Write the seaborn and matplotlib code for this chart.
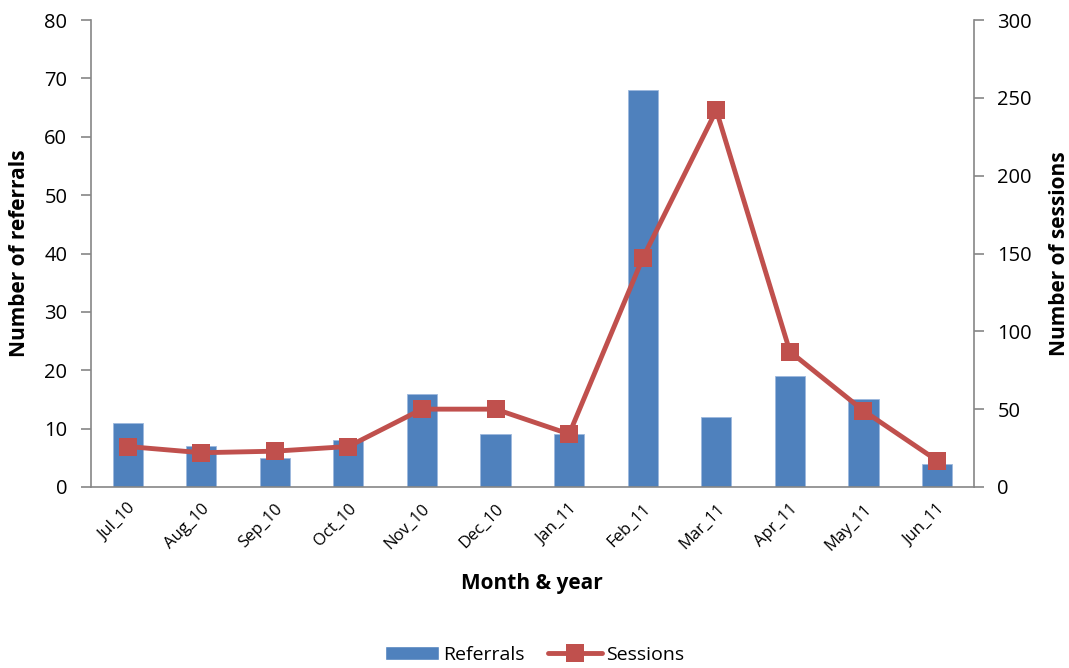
import numpy as np
import pandas as pd
import matplotlib
matplotlib.use('Agg')
import matplotlib.pyplot as plt
import seaborn as sns
from matplotlib.lines import Line2D
from matplotlib.patches import Patch

months = ['Jul_10', 'Aug_10', 'Sep_10', 'Oct_10', 'Nov_10', 'Dec_10',
          'Jan_11', 'Feb_11', 'Mar_11', 'Apr_11', 'May_11', 'Jun_11']
referrals = [11, 7, 5, 8, 16, 9, 9, 68, 12, 19, 15, 4]
sessions = [26, 22, 23, 26, 50, 50, 34, 147, 242, 87, 49, 17]

sns.set_style('white')
plt.rcParams['font.family'] = ['Open Sans', 'DejaVu Sans']
plt.rcParams['text.color'] = 'black'
plt.rcParams['axes.labelcolor'] = 'black'
plt.rcParams['xtick.color'] = 'black'
plt.rcParams['ytick.color'] = 'black'

blue = '#4F81BD'
red = '#C0504D'
grey = '#868686'

df = pd.DataFrame({'month': months, 'referrals': referrals, 'sessions': sessions})

fig = plt.figure(figsize=(10.69, 6.68), dpi=100)
ax = fig.add_axes([0.085, 0.271, 0.826, 0.699])
sns.barplot(data=df, x='month', y='referrals', color=blue, width=0.41,
            saturation=1, edgecolor='#9DB9DD', linewidth=0.6, ax=ax)
ax.set_xlim(-0.5, len(months) - 0.5)
ax.set_ylim(0, 80)
ax.set_yticks(range(0, 81, 10))

ax2 = ax.twinx()
x = np.arange(len(months))
sns.lineplot(x=x, y=df['sessions'], ax=ax2, color=red, linewidth=3.5,
             marker='s', markersize=13, markeredgewidth=0)
ax2.set_ylim(0, 300)
ax2.set_yticks(range(0, 301, 50))
ax2.set_xlim(-0.5, len(months) - 0.5)

for a in (ax, ax2):
    for s in a.spines.values():
        s.set_visible(False)
    a.tick_params(axis='y', labelsize=14.5, length=7, width=1.2, color=grey,
                  direction='out', pad=10, labelcolor='black')
ax.spines['left'].set_visible(True)
ax.spines['bottom'].set_visible(True)
ax2.spines['right'].set_visible(True)
for s in (ax.spines['left'], ax.spines['bottom'], ax2.spines['right']):
    s.set_color(grey)
    s.set_linewidth(1.2)
ax.tick_params(axis='y', left=True)
ax2.tick_params(axis='y', right=True)

ax.set_xticks(x)
ax.set_xticklabels(months, rotation=45, ha='right', rotation_mode='anchor', fontsize=12)
ax.tick_params(axis='x', which='major', length=0, pad=10, labelcolor='black')
ax.set_xticks(np.arange(-0.5, len(months)), minor=True)
ax.tick_params(axis='x', which='minor', length=7, width=1.2, color=grey, direction='out')

ax.set_xlabel('Month & year', fontsize=15, fontweight='bold', labelpad=14)
ax.set_ylabel('Number of referrals', fontsize=15, fontweight='bold', labelpad=10)
ax2.set_ylabel('Number of sessions', fontsize=15, fontweight='bold', labelpad=12)

handles = [Patch(facecolor=blue, label='Referrals'),
           Line2D([0], [0], color=red, lw=3.5, marker='s', markersize=13,
                  markeredgewidth=0, label='Sessions')]
fig.legend(handles=handles, loc='center', bbox_to_anchor=(0.5, 0.02), ncol=2,
           frameon=False, fontsize=14, handlelength=2.8, columnspacing=1.2,
           handletextpad=0.2)

fig.savefig('out.png', dpi=100)
